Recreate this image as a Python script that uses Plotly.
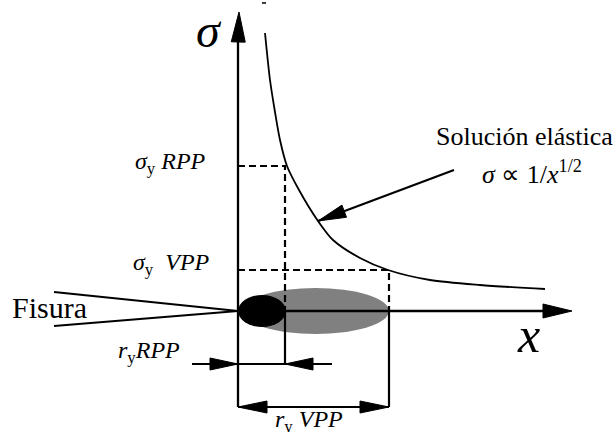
import plotly.graph_objects as go

# ---- data (diagram coordinates, pixel-like units, y grows downward) ----
curve_x = [265, 270, 275, 280, 287, 299, 318, 333, 360, 388, 430, 480, 545]
curve_y = [33, 80, 112, 140, 166, 190, 221, 240, 258, 270, 280, 285, 289]

origin = (238, 311)
x_rpp = 285
x_vpp = 389
sigma_rpp = 166
sigma_vpp = 270
y_top = 12
x_right = 572
y_dim_rpp = 364
y_dim_vpp = 407
crack_x = 54
crack_half = [292, 326]
elastic_tail = (454, 170)
elastic_tip = (318, 221)

labels = {
    "sigma": "<i>σ</i>",
    "x": "<i>x</i>",
    "fisura": "Fisura",
    "sol1": "Solución elástica",
    "sol2": "<i>σ</i> ∝ 1/<i>x</i><sup>1/2</sup>",
    "srpp": "<i>σ</i><sub>y</sub> <i>RPP</i>",
    "svpp": "<i>σ</i><sub>y</sub>  <i>VPP</i>",
    "rrpp": "<i>r</i><sub>y</sub><i>RPP</i>",
    "rvpp": "<i>r</i><sub>y</sub> <i>VPP</i>",
}

FONT = "Liberation Serif, Times New Roman, serif"
BLACK = "#000000"
GRAY = "#808080"

fig = go.Figure()

def line(xs, ys, width=2.0, dash=None):
    fig.add_trace(go.Scatter(x=xs, y=ys, mode="lines", hoverinfo="skip",
                             line=dict(color=BLACK, width=width, dash=dash),
                             showlegend=False))

def head(tip, tail, length, hw):
    dx, dy = tail[0] - tip[0], tail[1] - tip[1]
    n = (dx * dx + dy * dy) ** 0.5
    ux, uy = dx / n, dy / n
    bx, by = tip[0] + ux * length, tip[1] + uy * length
    px, py = -uy, ux
    xs = [tip[0], bx + px * hw, bx - px * hw, tip[0]]
    ys = [tip[1], by + py * hw, by - py * hw, tip[1]]
    fig.add_trace(go.Scatter(x=xs, y=ys, mode="lines", fill="toself",
                             fillcolor=BLACK, line=dict(color=BLACK, width=1),
                             hoverinfo="skip", showlegend=False))

ox, oy = origin

# axes
line([ox, ox], [y_top + 28, y_dim_vpp], 2.3)
head((ox + 1, y_top), (ox, y_top + 40), 30, 7)
line([ox, x_right - 28], [oy, oy], 2.3)
head((x_right, oy), (x_right - 40, oy), 29, 7)

# crack
line([crack_x, ox], [crack_half[0], oy], 2.0)
line([crack_x, ox], [crack_half[1], oy], 2.0)

# dashed guides
line([ox, x_rpp, x_rpp], [sigma_rpp, sigma_rpp, oy], 2.2, "7px,4px")
line([ox, x_vpp, x_vpp], [sigma_vpp, sigma_vpp, oy], 2.2, "7px,4px")

# dimension lines
line([x_rpp, x_rpp], [oy, y_dim_rpp], 2.2)
line([x_vpp, x_vpp], [oy, y_dim_vpp], 2.2)
line([192, 332], [y_dim_rpp, y_dim_rpp], 2.2)
head((ox, y_dim_rpp), (192, y_dim_rpp), 28, 6)
head((x_rpp, y_dim_rpp), (332, y_dim_rpp), 28, 6)
line([ox, x_vpp], [y_dim_vpp, y_dim_vpp], 2.2)
head((ox, y_dim_vpp), (x_vpp, y_dim_vpp), 29, 6)
head((x_vpp, y_dim_vpp), (ox, y_dim_vpp), 29, 6)

# elastic curve
fig.add_trace(go.Scatter(x=curve_x, y=curve_y, mode="lines", hoverinfo="skip",
                         line=dict(color=BLACK, width=1.8, shape="spline", smoothing=0.8),
                         showlegend=False))

# pointer arrow
line([elastic_tail[0], elastic_tip[0]], [elastic_tail[1], elastic_tip[1]], 2.2)
head(elastic_tip, elastic_tail, 28, 6.5)

# small tick at top
line([262, 266], [3, 3], 1.5)

# plastic zones
fig.add_shape(type="circle", xref="x", yref="y", x0=242, x1=x_vpp, y0=288, y1=334,
              fillcolor=GRAY, line=dict(width=0), layer="below")
fig.add_shape(type="circle", xref="x", yref="y", x0=ox, x1=x_rpp + 1, y0=295, y1=327,
              fillcolor=BLACK, line=dict(width=0), layer="above")

def text(key, x, y, size, xanchor="center"):
    fig.add_annotation(x=x, y=y, xref="x", yref="y", text=labels[key], showarrow=False,
                       xanchor=xanchor, yanchor="middle",
                       font=dict(family=FONT, size=size, color=BLACK))

text("sigma", 209, 30, 48)
text("x", 528, 335, 50)
text("fisura", 49, 307, 30)
text("sol1", 524, 136, 26)
text("sol2", 532, 172, 26)
text("srpp", 133, 163, 24, "left")
text("svpp", 131, 264, 24, "left")
text("rrpp", 116, 352, 24, "left")
text("rvpp", 309, 421, 24)

fig.update_layout(
    width=615, height=432, margin=dict(l=0, r=0, t=0, b=0),
    paper_bgcolor="white", plot_bgcolor="white",
    xaxis=dict(range=[0, 615], visible=False, fixedrange=True),
    yaxis=dict(range=[432, 0], visible=False, fixedrange=True),
    showlegend=False,
)

fig.write_html("out.html", config={"displayModeBar": False})
